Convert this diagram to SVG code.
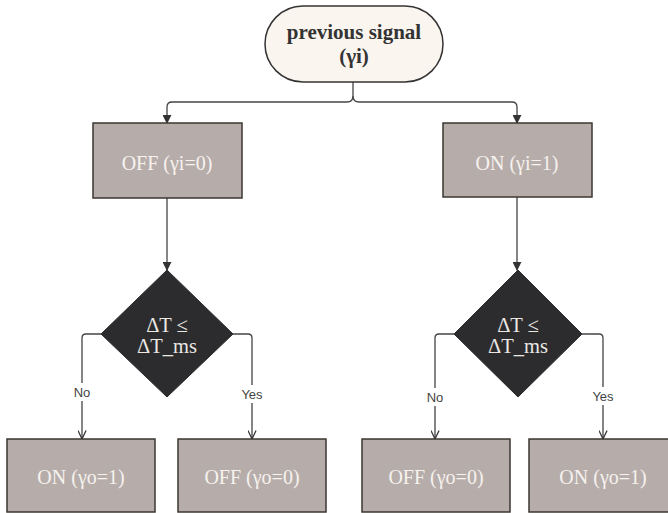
<svg xmlns="http://www.w3.org/2000/svg" width="668" height="513" viewBox="0 0 668 513">
<defs>
<style>
.box{fill:#b6adaa;stroke:#3b3631;stroke-width:1.5}
.dia{fill:#2c2c2e;stroke:#2c2c2e;stroke-width:1}
.pill{fill:#faf5ee;stroke:#333;stroke-width:1.5}
.bt{font-family:"Liberation Serif",serif;font-size:20px;fill:#f6f2ee;text-anchor:middle}
.dt{font-family:"Liberation Serif",serif;font-size:20.5px;fill:#ebe7e3;text-anchor:middle}
.pt{font-family:"Liberation Serif",serif;font-size:21px;font-weight:bold;fill:#333;text-anchor:middle}
.lb{font-family:"Liberation Sans",sans-serif;font-size:13px;fill:#444;text-anchor:middle}
.c{fill:none;stroke:#444;stroke-width:1.3}
</style>
<marker id="af" viewBox="0 0 10 10" refX="9" refY="5" markerWidth="9" markerHeight="9" markerUnits="userSpaceOnUse" orient="auto">
<path d="M0,0 L10,5 L0,10 z" fill="#333"/>
</marker>
<marker id="ao" viewBox="0 0 10 10" refX="9.5" refY="5" markerWidth="9" markerHeight="9" markerUnits="userSpaceOnUse" orient="auto">
<path d="M0,0.5 L9.5,5 L0,9.5" fill="none" stroke="#333" stroke-width="1.4"/>
</marker>
</defs>
<rect width="668" height="513" fill="#fff"/>
<g id="connectors">
<path class="c" d="M353,82 V96 Q353,102 347,102 H172 Q167,102 167,107 V123" marker-end="url(#af)"/>
<path class="c" d="M353,96 Q353,102 359,102 H512 Q517,102 517,107 V123" marker-end="url(#af)"/>
<path class="c" d="M167,198 V270" marker-end="url(#af)"/>
<path class="c" d="M517,197 V270" marker-end="url(#af)"/>
<path class="c" d="M101,334 H86 Q82,334 82,338 V383 M82,401 V439" marker-end="url(#ao)"/>
<path class="c" d="M233,334 H248 Q252,334 252,338 V385 M252,403 V439" marker-end="url(#ao)"/>
<path class="c" d="M454,334 H439 Q435,334 435,338 V388 M435,406 V439" marker-end="url(#ao)"/>
<path class="c" d="M582,334 H599 Q603,334 603,338 V387 M603,405 V439" marker-end="url(#ao)"/>
<text class="lb" x="82" y="397">No</text>
<text class="lb" x="252" y="399">Yes</text>
<text class="lb" x="435" y="402">No</text>
<text class="lb" x="603" y="401">Yes</text>
</g>
<g id="start">
<rect class="pill" x="265" y="6" width="178" height="76" rx="38" ry="38"/>
<text class="pt" x="354" y="39">previous signal</text>
<text class="pt" x="354" y="63">(γi)</text>
</g>
<g id="off_i">
<rect class="box" x="93" y="123" width="149" height="75"/>
<text class="bt" x="167" y="170">OFF (γi=0)</text>
</g>
<g id="on_i">
<rect class="box" x="443" y="123" width="149" height="74"/>
<text class="bt" x="517" y="170">ON (γi=1)</text>
</g>
<g id="dec_left">
<polygon class="dia" points="167,270 233,334 167,397 101,334"/>
<text class="dt" x="167" y="332">ΔT ≤</text>
<text class="dt" x="167" y="353">ΔT_ms</text>
</g>
<g id="dec_right">
<polygon class="dia" points="518,270 582,334 518,397 454,334"/>
<text class="dt" x="518" y="332">ΔT  ≤</text>
<text class="dt" x="518" y="353">ΔT_ms</text>
</g>
<g id="on_o_left">
<rect class="box" x="7" y="439" width="148" height="73"/>
<text class="bt" x="81" y="484">ON (γo=1)</text>
</g>
<g id="off_o_left">
<rect class="box" x="178" y="439" width="148" height="73"/>
<text class="bt" x="252" y="484">OFF (γo=0)</text>
</g>
<g id="off_o_right">
<rect class="box" x="362" y="439" width="148" height="73"/>
<text class="bt" x="436" y="484">OFF (γo=0)</text>
</g>
<g id="on_o_right">
<rect class="box" x="529" y="439" width="148" height="73"/>
<text class="bt" x="603" y="484">ON (γo=1)</text>
</g>
</svg>
